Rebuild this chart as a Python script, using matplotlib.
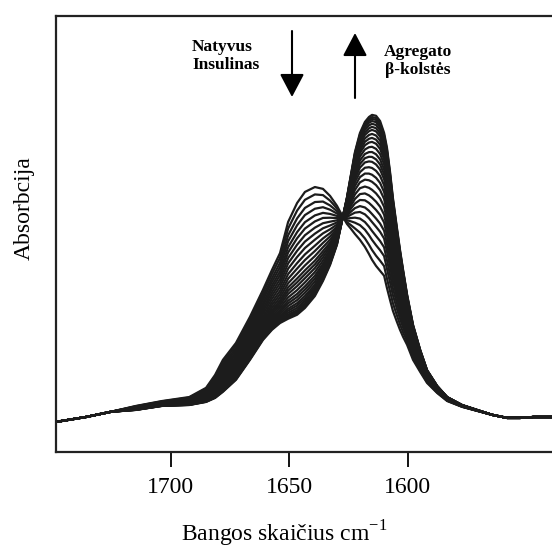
import matplotlib
matplotlib.use("Agg")
import matplotlib.pyplot as plt
import numpy as np

plt.rcParams['font.family'] = ['Liberation Serif', 'DejaVu Serif']
plt.rcParams['mathtext.fontset'] = 'custom'
plt.rcParams['mathtext.rm'] = 'Liberation Serif'

# wavenumbers (cm-1)
banga = [1748.4, 1735.8, 1725.2, 1714.7, 1703.7, 1692.2, 1685.1, 1681.3, 1678.0,
         1672.5, 1666.6, 1661.1, 1657.3, 1653.9, 1650.5, 1646.7, 1643.4, 1639.2,
         1635.8, 1632.8, 1629.9, 1627.4, 1625.7, 1624.0, 1622.3, 1620.2, 1618.1,
         1616.4, 1615.1, 1613.4, 1611.7, 1610.0, 1608.8, 1607.5, 1606.3, 1604.6,
         1603.3, 1602.0, 1600.3, 1597.8, 1594.8, 1591.9, 1587.6, 1583.4, 1577.1,
         1570.8, 1564.4, 1558.1, 1552.6, 1547.1, 1539.2, 1537.0]

# first spectrum (natyvus insulinas)
natyvus = [0.000, 0.016, 0.033, 0.052, 0.068, 0.081, 0.111, 0.153, 0.202,
           0.257, 0.342, 0.430, 0.495, 0.550, 0.651, 0.713, 0.749, 0.765,
           0.759, 0.736, 0.704, 0.668, 0.645, 0.629, 0.612, 0.593, 0.570,
           0.547, 0.528, 0.508, 0.492, 0.476, 0.436, 0.397, 0.362, 0.326,
           0.300, 0.277, 0.251, 0.202, 0.163, 0.127, 0.094, 0.068, 0.049,
           0.036, 0.023, 0.013, 0.013, 0.016, 0.016, 0.016]

# last spectrum (agregatai, beta-klostes)
agregatas = [0.000, 0.016, 0.033, 0.039, 0.052, 0.055, 0.065, 0.078, 0.098,
             0.137, 0.202, 0.267, 0.300, 0.322, 0.336, 0.349, 0.371, 0.410,
             0.459, 0.511, 0.577, 0.668, 0.730, 0.805, 0.879, 0.941, 0.977,
             0.993, 1.000, 0.997, 0.980, 0.941, 0.893, 0.814, 0.730, 0.632,
             0.560, 0.495, 0.414, 0.316, 0.235, 0.169, 0.117, 0.081, 0.055,
             0.039, 0.023, 0.013, 0.013, 0.016, 0.016, 0.016]

# height of every spectrum at 1615 cm-1, from first to last
virsunes = [0.528, 0.560, 0.593, 0.622, 0.651, 0.677, 0.704, 0.730, 0.756,
            0.782, 0.805, 0.827, 0.847, 0.863, 0.879, 0.896, 0.912, 0.925,
            0.938, 0.951, 0.961, 0.971, 0.980, 0.987, 0.993, 1.000]

banga = np.array(banga)
nat = np.array(natyvus)
agr = np.array(agregatas)
i_pk = banga.tolist().index(1615.1)

fig = plt.figure(figsize=(5.52, 5.51), dpi=100)
W, H = 552, 551
ax = fig.add_axes([56 / W, (H - 452) / H, 500 / W, 436 / H])

for h in virsunes:
    f = (h - nat[i_pk]) / (agr[i_pk] - nat[i_pk])
    ax.plot(banga, nat + f * (agr - nat), color='#1c1c1c', lw=1.6,
            solid_joinstyle='round')

ax.set_xlim(1748.4, 1537.5)
ax.set_ylim(-0.098, 1.322)
ax.set_xticks([1700, 1650, 1600])
ax.set_yticks([])
ax.tick_params(axis='x', direction='out', length=11, width=1.3, labelsize=17, pad=7)
for s in ax.spines.values():
    s.set_linewidth(1.6)
    s.set_color('#222222')

ax.set_xlabel('Bangos skaičius cm$^{\\mathregular{-1}}$', fontsize=17)
ax.xaxis.set_label_coords(0.456, -0.152)
ax.set_ylabel('Absorbcija', fontsize=17)
ax.yaxis.set_label_coords(-0.042, 0.56)

fig.text(192 / W, 1 - 56 / H, 'Natyvus\nInsulinas', fontsize=12.5, fontweight='bold',
         ha='left', va='center', linespacing=1.2)
fig.text(418 / W, 1 - 61 / H, 'Agregato\nβ-kolstės', fontsize=12.5, fontweight='bold',
         ha='center', va='center', multialignment='center', linespacing=1.2)

strele = dict(arrowstyle='-|>,head_length=0.95,head_width=0.5', mutation_scale=15,
              color='black', lw=1.5, shrinkA=0, shrinkB=0)
ax.annotate('', xy=(292, H - 97), xytext=(292, H - 31), xycoords='figure pixels',
            textcoords='figure pixels', arrowprops=strele)
ax.annotate('', xy=(355, H - 33), xytext=(355, H - 98), xycoords='figure pixels',
            textcoords='figure pixels', arrowprops=strele)

fig.savefig('out.png', dpi=100)
